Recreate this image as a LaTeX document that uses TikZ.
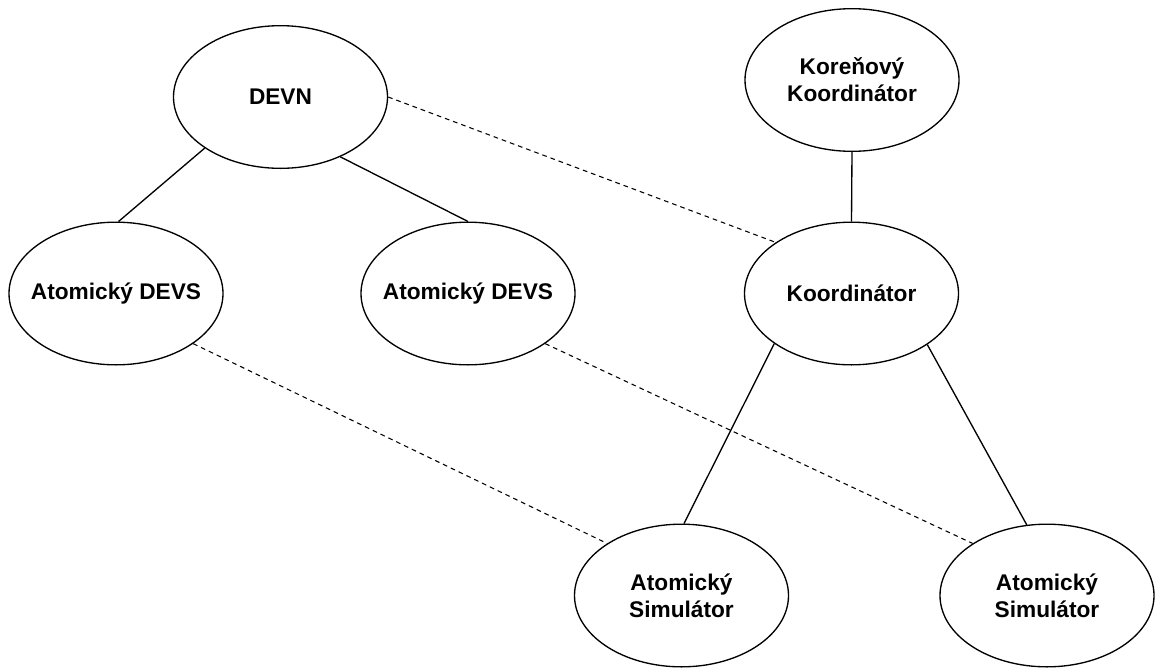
\documentclass[tikz,border=0pt]{standalone}
\usepackage{fontspec}
\setmainfont{Liberation Sans}
\usetikzlibrary{shapes.geometric}
\begin{document}
\begin{tikzpicture}[x=0.75pt,y=-0.75pt,
  entity/.style={ellipse,draw,line width=1pt,inner sep=-40pt,
    minimum width=160.5pt,minimum height=107pt,align=center,
    font=\fontsize{17}{20.3}\selectfont\bfseries},
  tree/.style={line width=1pt},
  mapping/.style={line width=0.8pt,dash pattern=on 3.5pt off 3pt}]
\useasboundingbox (0,0) rectangle (1156,668);

% model hierarchy
\node[entity] (devn)  at (280.5,97)   {DEVN};
\node[entity] (atom1) at (116,293.5)  {Atomický DEVS};
\node[entity] (atom2) at (468,293.5)  {Atomický DEVS};

% simulator hierarchy
\node[entity] (root)  at (852,80)     {Koreňový\\Koordinátor};
\node[entity] (coord) at (851.5,293.5){Koordinátor};
\node[entity] (sim1)  at (681.5,595.5){Atomický\\Simulátor};
\node[entity] (sim2)  at (1047,595.5) {Atomický\\Simulátor};

% parent-child links
\draw[tree] (devn.214)   -- (atom1.88.4);
\draw[tree] (devn.315.7) -- (atom2.90.8);
\draw[tree] (root.south) -- (coord.north);
\draw[tree] (coord.213.3) -- (sim1.88.8);
\draw[tree] (coord.326)   -- (sim2.106.6);

% model-to-simulator correspondence
\draw[mapping] (devn.east)   -- (coord.146.6);
\draw[mapping] (atom1.327.4) -- (sim1.145.4);
\draw[mapping] (atom2.327.3) -- (sim2.145.5);
\end{tikzpicture}
\end{document}
